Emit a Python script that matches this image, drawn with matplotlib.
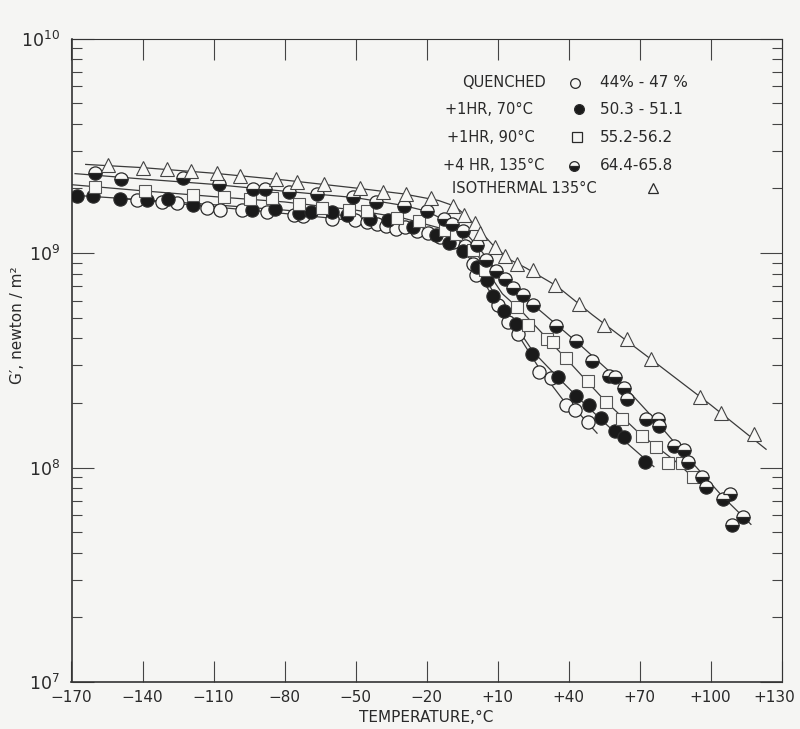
import numpy as np
import matplotlib
matplotlib.use("Agg")
import matplotlib.pyplot as plt
import matplotlib.transforms as mtransforms
from matplotlib.ticker import FixedLocator, NullFormatter, FixedFormatter

# ---------------- data (temperature in °C, log10 of G' in N/m^2) ----------------
quenched_T = [-142.5, -131.9, -125.6, -112.9, -107.3, -98.1, -87.5, -76.0, -72.3, -60.0,
              -50.2, -45.3, -41.0, -37.2, -32.8, -29.1, -24.0, -19.5, -14.3, -8.8,
              -3.8, -0.3, 0.9, 10.0, 14.5, 18.6, 27.4, 32.4, 38.9, 42.7, 48.3]
quenched_lgG = [9.247, 9.239, 9.232, 9.208, 9.200, 9.200, 9.193, 9.177, 9.172, 9.160,
                9.154, 9.146, 9.135, 9.125, 9.112, 9.120, 9.104, 9.092, 9.076, 9.050,
                9.033, 8.948, 8.897, 8.756, 8.680, 8.622, 8.447, 8.416, 8.291, 8.266, 8.212]

hr70_T = [-167.8, -160.8, -149.5, -138.0, -129.1, -118.5, -93.9, -84.2, -74.0, -68.8,
          -59.9, -53.5, -43.8, -36.5, -25.9, -16.2, -10.6, -4.5, 1.2, 5.4,
          7.9, 12.7, 17.6, 24.4, 35.5, 42.9, 48.6, 53.5, 59.6, 63.4, 72.3]
hr70_lgG = [9.266, 9.266, 9.250, 9.247, 9.250, 9.224, 9.200, 9.206, 9.188, 9.193,
            9.193, 9.175, 9.157, 9.156, 9.119, 9.084, 9.048, 9.008, 8.936, 8.874,
            8.800, 8.731, 8.667, 8.530, 8.422, 8.333, 8.291, 8.230, 8.170, 8.140, 8.027]

hr90_T = [-160.1, -138.9, -118.5, -105.6, -94.6, -85.2, -73.7, -64.3, -52.6, -45.2,
          -32.4, -23.0, -12.4, -7.6, -0.2, 4.7, 18.1, 23.0, 30.7, 33.5,
          38.9, 48.3, 55.8, 62.6, 70.9, 76.9, 81.9, 87.8, 92.4]
hr90_lgG = [9.309, 9.289, 9.270, 9.262, 9.250, 9.255, 9.230, 9.212, 9.200, 9.195,
            9.164, 9.151, 9.107, 9.088, 9.015, 8.921, 8.746, 8.664, 8.600, 8.586,
            8.509, 8.404, 8.304, 8.227, 8.148, 8.097, 8.022, 8.022, 7.954]

hr135_T = [-160.1, -149.1, -122.8, -107.6, -93.4, -88.2, -78.2, -66.4, -50.9, -41.4,
           -29.6, -19.9, -12.8, -9.3, -4.5, 1.2, 5.1, 9.3, 13.1, 16.7,
           20.9, 25.1, 34.7, 43.1, 49.8, 57.0, 59.6, 63.4, 64.8, 72.5,
           77.7, 78.1, 84.5, 88.8, 90.6, 96.2, 98.1, 105.1, 108.2, 113.6, 108.9]
hr135_lgG = [9.372, 9.344, 9.348, 9.320, 9.297, 9.297, 9.286, 9.277, 9.262, 9.239,
             9.221, 9.196, 9.160, 9.135, 9.104, 9.037, 8.967, 8.917, 8.877, 8.835,
             8.804, 8.758, 8.660, 8.591, 8.498, 8.427, 8.422, 8.372, 8.318, 8.227,
             8.225, 8.192, 8.100, 8.082, 8.027, 7.957, 7.908, 7.852, 7.876, 7.771, 7.732]

iso_T = [-154.7, -139.7, -129.5, -119.5, -108.7, -98.7, -83.6, -74.6, -63.2, -48.1,
         -38.5, -28.8, -18.2, -8.7, -4.3, 0.3, 2.6, 8.9, 13.1, 18.0,
         24.8, 34.3, 44.3, 55.0, 64.6, 74.8, 95.5, 104.4, 118.5]
iso_lgG = [9.410, 9.395, 9.390, 9.382, 9.372, 9.359, 9.344, 9.332, 9.320, 9.302,
           9.283, 9.277, 9.258, 9.220, 9.177, 9.140, 9.094, 9.029, 8.985, 8.947,
           8.921, 8.851, 8.764, 8.664, 8.598, 8.504, 8.327, 8.255, 8.155]

# fitted curves as drawn in the figure (knots)
quenched_fit_T = [-150, -120, -90, -60, -40, -25, -12, -4, 0, 5, 10, 15, 20, 28, 38, 45, 52]
quenched_fit_lgG = [9.255, 9.225, 9.195, 9.162, 9.135, 9.105, 9.065, 9.020, 8.960, 8.850,
                    8.760, 8.678, 8.595, 8.455, 8.310, 8.245, 8.160]
hr70_fit_T = [-170, -140, -110, -80, -50, -30, -15, -5, 0, 5, 10, 17, 25, 35, 45, 55, 65, 76]
hr70_fit_lgG = [9.270, 9.248, 9.225, 9.200, 9.170, 9.135, 9.085, 9.010, 8.955, 8.880,
                8.780, 8.670, 8.540, 8.425, 8.315, 8.210, 8.110, 8.004]
hr90_fit_T = [-169.5, -140, -110, -80, -50, -30, -15, -5, 0, 5, 12, 20, 30, 40, 55, 70, 85, 94]
hr90_fit_lgG = [9.318, 9.290, 9.263, 9.238, 9.200, 9.163, 9.118, 9.060, 9.020, 8.925,
                8.810, 8.730, 8.612, 8.495, 8.315, 8.158, 8.030, 7.940]
hr135_fit_T = [-168.5, -140, -110, -80, -50, -30, -20, -10, -4, 2, 10, 20, 30, 45, 60, 75, 90, 105, 117]
hr135_fit_lgG = [9.370, 9.345, 9.320, 9.288, 9.258, 9.222, 9.195, 9.140, 9.100, 9.025,
                 8.912, 8.805, 8.712, 8.570, 8.420, 8.240, 8.050, 7.865, 7.735]
iso_fit_T = [-164, -140, -110, -80, -50, -30, -15, -8, -3, 2, 8, 15, 22, 35, 50, 75, 100, 123.4]
iso_fit_lgG = [9.413, 9.398, 9.372, 9.340, 9.303, 9.276, 9.245, 9.218, 9.170, 9.110,
               9.037, 8.970, 8.930, 8.846, 8.712, 8.503, 8.292, 8.085]

x_ticks = [-170, -140, -110, -80, -50, -20, 10, 40, 70, 100, 130]
x_tick_labels = ["\u2212170", "\u2212140", "\u2212110", "\u221280", "\u221250", "\u221220",
                 "+10", "+40", "+70", "+100", "+130"]
y_major = [1e7, 1e8, 1e9, 1e10]
y_major_labels = [r"$10^{7}$", r"$10^{8}$", r"$10^{9}$", r"$10^{10}$"]

legend_names = ["QUENCHED", "+1HR, 70\u00b0C", "+1HR, 90\u00b0C", "+4 HR, 135\u00b0C", "ISOTHERMAL 135\u00b0C"]
legend_ranges = ["44% - 47 %", "50.3 - 51.1", "55.2-56.2", "64.4-65.8", ""]

# ---------------- figure ----------------
plt.rcParams["font.family"] = ["DejaVu Sans"]
W, H = 800, 729
BG = "#f5f5f3"
INK = "#2a2a2a"
fig = plt.figure(figsize=(W / 100, H / 100), dpi=100, facecolor=BG)
L, R, T, B = 71.5, 781.7, 38.5, 682.0
ax = fig.add_axes([L / W, 1 - B / H, (R - L) / W, (B - T) / H])
ax.set_facecolor(BG)
ax.set_yscale("log")
ax.set_xlim(-170, 130)
ax.set_ylim(1e7, 1e10)

def G(lg):
    return 10 ** np.asarray(lg, dtype=float)

line_kw = dict(color="#3a3a3a", lw=0.9, zorder=2)
for ft, fg in [(quenched_fit_T, quenched_fit_lgG), (hr70_fit_T, hr70_fit_lgG),
               (hr90_fit_T, hr90_fit_lgG), (hr135_fit_T, hr135_fit_lgG),
               (iso_fit_T, iso_fit_lgG)]:
    ax.plot(ft, G(fg), **line_kw)

mk = dict(linestyle="none", markeredgecolor=INK, markeredgewidth=0.9, zorder=3)
ax.plot(quenched_T, G(quenched_lgG), marker="o", markersize=9.5, markerfacecolor="#f7f7f5", **mk)
ax.plot(hr70_T, G(hr70_lgG), marker="o", markersize=9.5, markerfacecolor="#1a1a1a", **mk)
ax.plot(hr90_T, G(hr90_lgG), marker="s", markersize=8.5, markerfacecolor="#f7f7f5",
        linestyle="none", markeredgecolor="#555555", markeredgewidth=0.8, zorder=3)
ax.plot(hr135_T, G(hr135_lgG), marker="o", markersize=9.5, fillstyle="bottom",
        markerfacecolor="#1a1a1a", markerfacecoloralt="#f7f7f5", **mk)
ax.plot(iso_T, G(iso_lgG), marker="^", markersize=9.5, markerfacecolor="#f7f7f5",
        linestyle="none", markeredgecolor="#444444", markeredgewidth=0.8, zorder=3)

# ticks
ax.xaxis.set_major_locator(FixedLocator(x_ticks))
ax.xaxis.set_major_formatter(FixedFormatter(x_tick_labels))
ax.yaxis.set_major_locator(FixedLocator(y_major))
ax.yaxis.set_major_formatter(FixedFormatter(y_major_labels))
minors = [m * 10.0 ** e for e in (7, 8, 9) for m in range(2, 10)]
ax.yaxis.set_minor_locator(FixedLocator(minors))
ax.yaxis.set_minor_formatter(NullFormatter())
ax.tick_params(axis="x", which="major", direction="in", length=15, width=0.8,
               top=True, bottom=True, color="#444444", labelsize=11, labelcolor=INK, pad=6)
ax.tick_params(axis="y", which="major", direction="in", length=16, width=0.8,
               left=True, right=True, color="#444444", labelsize=12.5, labelcolor=INK, pad=8)
ax.tick_params(axis="y", which="minor", direction="in", length=7, width=0.8,
               left=True, right=True, color="#444444")
for side, sp in ax.spines.items():
    sp.set_color("#333333")
    sp.set_linewidth(1.2 if side in ("left", "bottom") else 0.8)

# keep the last x label inside the figure
fig.canvas.draw()
last = ax.get_xticklabels()[-1]
last.set_transform(last.get_transform() + mtransforms.ScaledTranslation(-7 / 100, 0, fig.dpi_scale_trans))

# axis labels
fig.text(426 / W, 1 - 717 / H, "TEMPERATURE,\u00b0C", ha="center", va="center",
         fontsize=11, color=INK)
fig.text(18 / W, 1 - 325 / H, "G\u2032, newton / m\u00b2", ha="center", va="center",
         rotation=90, fontsize=11, color=INK)

# legend block
rows_y = [82.7, 109.3, 137.3, 166.0, 188.3]
name_x = [461.7, 445.0, 447.0, 443.0, 452.0]
mark_x = [575.0, 579.0, 577.0, 574.0, 653.0]
range_x = 600.0
tf = fig.transFigure
for i, name in enumerate(legend_names):
    y = 1 - rows_y[i] / H
    fig.text(name_x[i] / W, y, name, ha="left", va="center", fontsize=10.5, color=INK)
    if legend_ranges[i]:
        fig.text(range_x / W, y, legend_ranges[i], ha="left", va="center", fontsize=11, color=INK)
lm = dict(transform=tf, linestyle="none", markeredgecolor=INK, markeredgewidth=0.9, clip_on=False)
ax.plot([mark_x[0] / W], [1 - rows_y[0] / H], marker="o", markersize=7, markerfacecolor=BG, **lm)
ax.plot([mark_x[1] / W], [1 - rows_y[1] / H], marker="o", markersize=7, markerfacecolor="#1a1a1a", **lm)
ax.plot([mark_x[2] / W], [1 - rows_y[2] / H], marker="s", markersize=7, markerfacecolor=BG, **lm)
ax.plot([mark_x[3] / W], [1 - rows_y[3] / H], marker="o", markersize=7, fillstyle="bottom",
        markerfacecolor="#1a1a1a", markerfacecoloralt=BG, **lm)
ax.plot([mark_x[4] / W], [1 - rows_y[4] / H], marker="^", markersize=7, markerfacecolor=BG, **lm)

fig.savefig("out.png", dpi=100, facecolor=BG)
